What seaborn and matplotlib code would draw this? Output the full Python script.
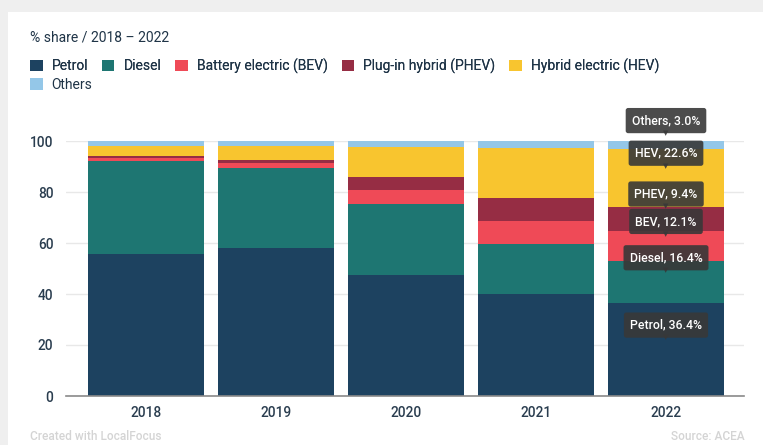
import matplotlib
matplotlib.use("Agg")
import matplotlib.pyplot as plt
import seaborn as sns
import numpy as np
from matplotlib.patches import Rectangle, Patch

years = ["2018", "2019", "2020", "2021", "2022"]
series_names = ["Petrol", "Diesel", "Battery electric (BEV)", "Plug-in hybrid (PHEV)",
                "Hybrid electric (HEV)", "Others"]
short_names = ["Petrol", "Diesel", "BEV", "PHEV", "HEV", "Others"]
petrol = [55.5, 58.0, 47.5, 40.0, 36.4]
diesel = [36.8, 31.5, 27.9, 19.5, 16.4]
bev = [1.0, 2.0, 5.4, 9.1, 12.1]
phev = [0.8, 0.9, 5.0, 8.9, 9.4]
hev = [4.1, 5.8, 12.0, 19.9, 22.6]
others = [1.8, 1.8, 2.2, 2.6, 3.0]
series = [petrol, diesel, bev, phev, hev, others]
colors = ["#1d4260", "#1e7672", "#ef4a57", "#962d44", "#f8c52f", "#94c7e8"]
yticks = [0, 20, 40, 60, 80, 100]

sns.set_style("white")
plt.rcParams["font.family"] = ["Roboto", "DejaVu Sans"]

W, H = 763, 445
fig = plt.figure(figsize=(W / 100, H / 100), dpi=100)
fig.patch.set_facecolor("#efefef")
fig.patches.append(Rectangle((8 / W, 0), 1, 1 - 12 / H, transform=fig.transFigure,
                             facecolor="white", edgecolor="none", zorder=-10))

ax = fig.add_axes([66 / W, 1 - 396 / H, (744 - 66) / W, (396 - 141) / H])
ax.set_facecolor("none")

bottom = np.zeros(len(years))
for vals, col in zip(series, colors):
    sns.barplot(x=years, y=vals, bottom=bottom, color=col, width=0.892,
                saturation=1, ax=ax, linewidth=0, zorder=2)
    bottom = bottom + np.array(vals)

ax.set_xlim(-0.615, 4.6)
ax.set_ylim(0, 100)
ax.set_yticks(yticks)
ax.set_yticklabels([str(t) for t in yticks])
ax.grid(axis="y", color="#e8e8e8", linewidth=1, zorder=0)
ax.set_axisbelow(True)
for s in ["top", "right", "left"]:
    ax.spines[s].set_visible(False)
ax.spines["bottom"].set_color("#8a8a8a")
ax.spines["bottom"].set_linewidth(1.2)
ax.spines["bottom"].set_zorder(5)
ax.tick_params(axis="both", length=0, labelsize=9.8, labelcolor="#2a3d4f")
ax.tick_params(axis="y", pad=9)
ax.tick_params(axis="x", pad=7)
for lab in ax.get_xticklabels() + ax.get_yticklabels():
    lab.set_fontweight("medium")
ax.set_xlabel("")
ax.set_ylabel("")

# tooltips for 2022
last = [s[-1] for s in series]
cum = np.cumsum([0] + last)
for i, (name, v) in enumerate(zip(short_names, last)):
    mid = cum[i] + v / 2
    ax.annotate(f"{name}, {v:.1f}%", xy=(4, mid), xytext=(0, 24.5),
                textcoords="offset pixels", ha="center", va="center",
                fontsize=8.8, color="white", fontweight="medium", zorder=10,
                annotation_clip=False,
                bbox=dict(boxstyle="round,pad=0.5,rounding_size=0.2",
                          fc="#383838", ec="none", alpha=0.9))
    ax.annotate("\u25BC", xy=(4, mid), xytext=(0, 12),
                textcoords="offset pixels", ha="center", va="center",
                fontsize=5, color="#383838", alpha=0.9, zorder=10,
                family="DejaVu Sans", annotation_clip=False)

# title
fig.text(30 / W, 1 - 37 / H, "% share / 2018 \u2013 2022", fontsize=10,
         color="#1f3447", va="center", ha="left")

handles = [Patch(facecolor=c, edgecolor="none") for c in colors]
leg1 = fig.legend(handles[:5], series_names[:5], loc="center left",
                  bbox_to_anchor=(30 / W, 1 - 66 / H), ncol=5, frameon=False,
                  handlelength=0.9, handleheight=0.9, handletextpad=0.65,
                  columnspacing=1.0, fontsize=10, labelcolor="#1f3447",
                  borderaxespad=0, borderpad=0)
leg2 = fig.legend(handles[5:], series_names[5:], loc="center left",
                  bbox_to_anchor=(30 / W, 1 - 85 / H), ncol=1, frameon=False,
                  handlelength=0.9, handleheight=0.9, handletextpad=0.65,
                  fontsize=10, labelcolor="#1f3447", borderaxespad=0, borderpad=0)
fig.add_artist(leg1)

fig.text(30 / W, 1 - 437 / H, "Created with LocalFocus", fontsize=8.6,
         color="#d4d4d4", va="center", ha="left", fontweight="medium")
fig.text(745 / W, 1 - 437 / H, "Source: ACEA", fontsize=8.6,
         color="#d4d4d4", va="center", ha="right", fontweight="medium")

fig.savefig("out.png", dpi=100, facecolor=fig.get_facecolor())
